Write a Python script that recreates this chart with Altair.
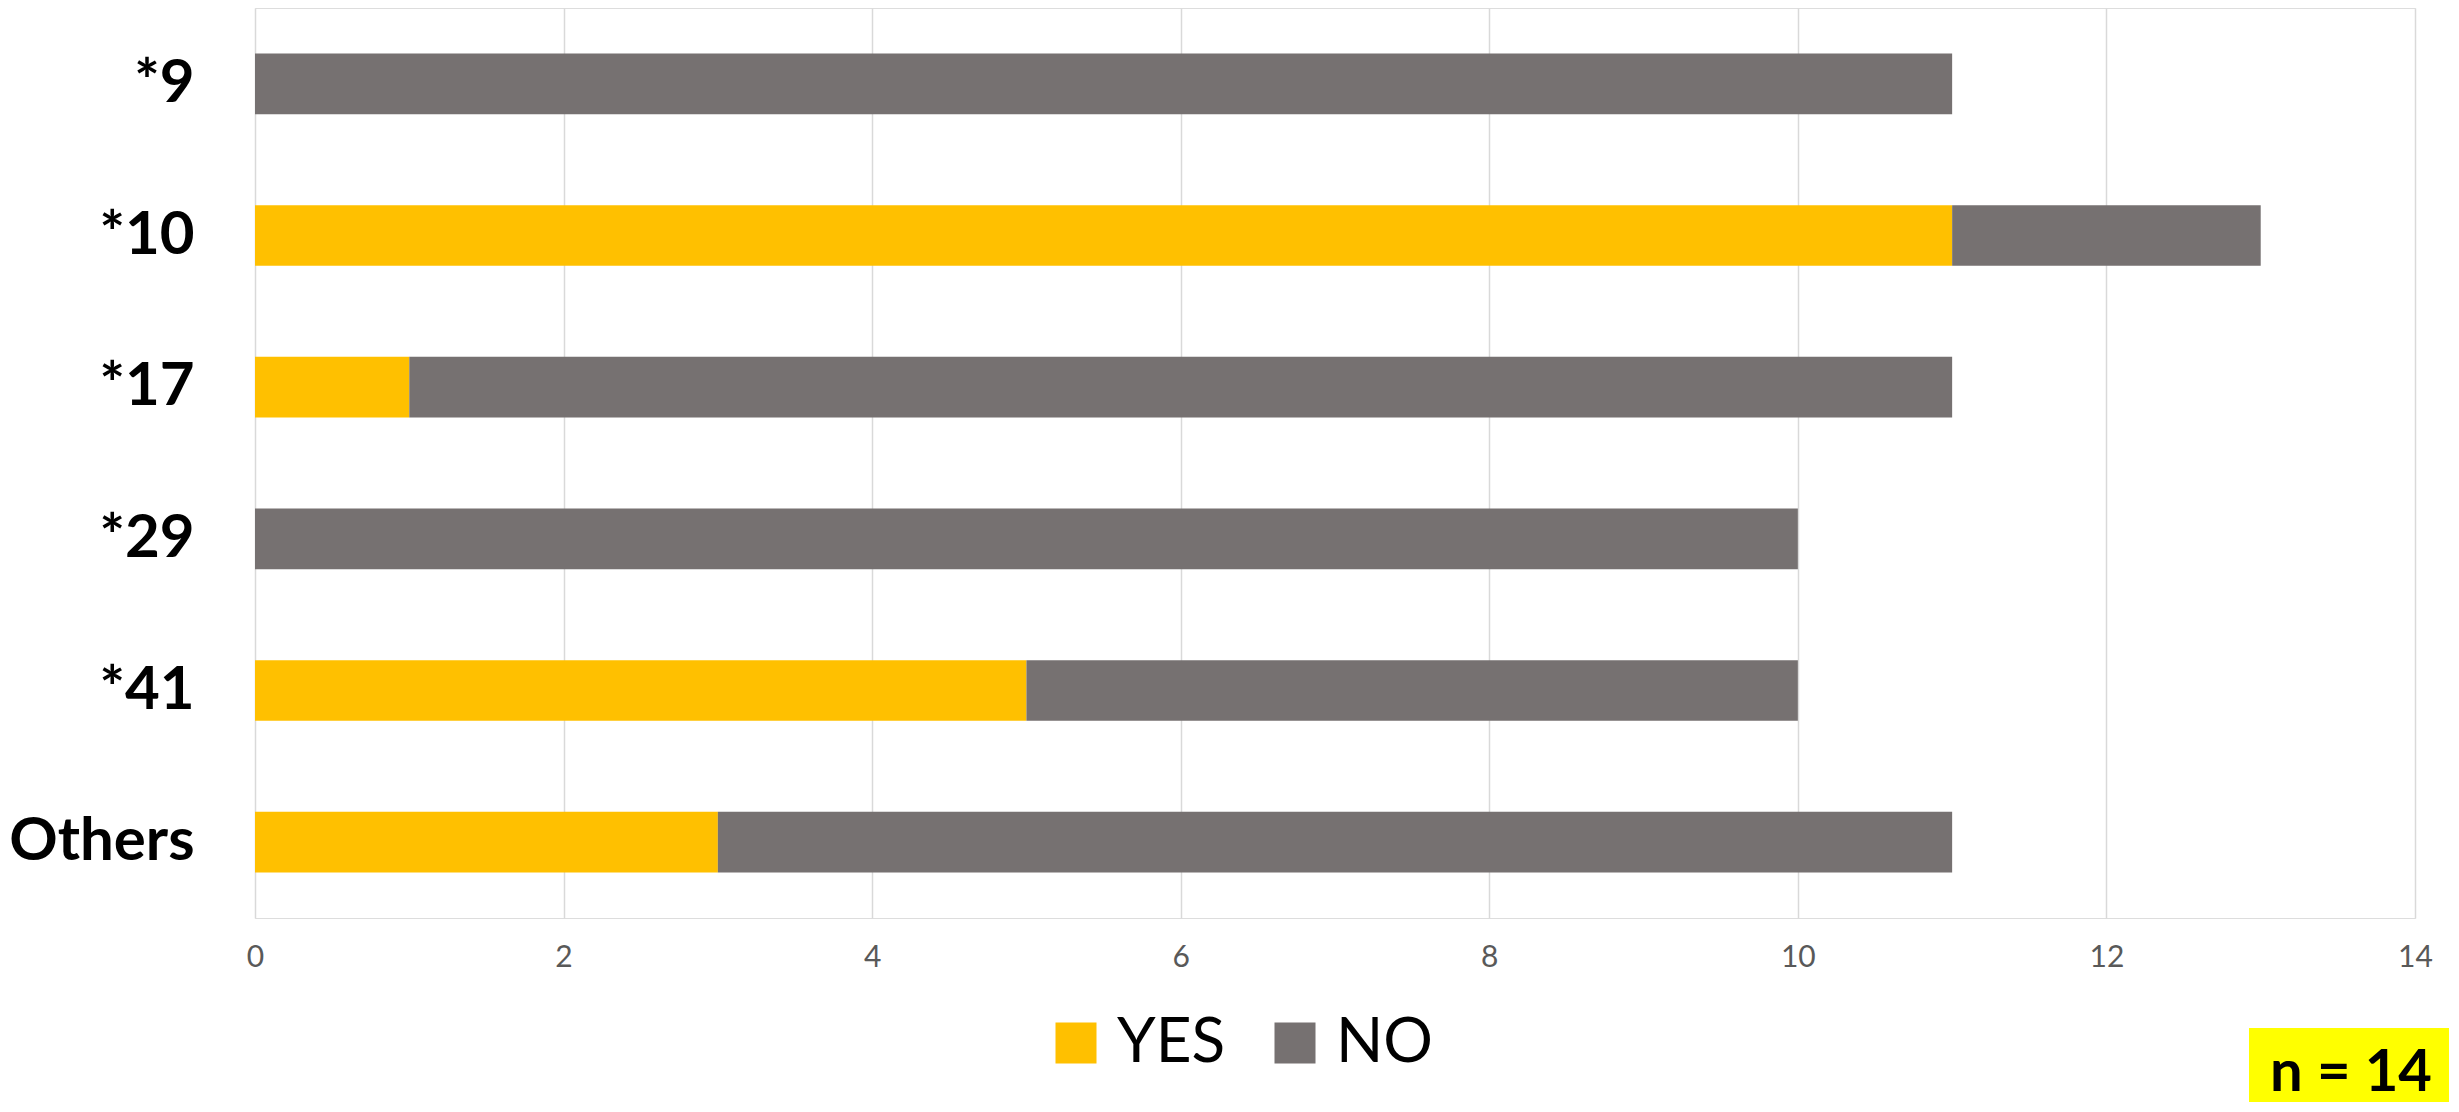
import altair as alt
import pandas as pd

categories = ["*9", "*10", "*17", "*29", "*41", "Others"]
yes_values = [0, 11, 1, 0, 5, 3]
no_values = [11, 2, 10, 10, 5, 8]
series = ["YES", "NO"]
colors = ["#FFC000", "#767171"]
x_ticks = [0, 2, 4, 6, 8, 10, 12, 14]
note = ["n = 14"]

rows = []
for c, yv, nv in zip(categories, yes_values, no_values):
    rows.append({"cat": c, "answer": "YES", "count": yv, "ord": 0})
    rows.append({"cat": c, "answer": "NO", "count": nv, "ord": 1})
df = pd.DataFrame(rows)

FONT = "Lato"

bars = alt.Chart(df).mark_bar().encode(
    y=alt.Y(
        "cat:N",
        sort=categories,
        scale=alt.Scale(paddingInner=0.6, paddingOuter=0.3),
        axis=alt.Axis(
            title=None, ticks=False, tickSize=0, domain=False, grid=False,
            labelFont=FONT, labelFontWeight="bold", labelFontSize=60,
            labelColor="#000000", labelPadding=61, labelLimit=400,
        ),
    ),
    x=alt.X(
        "count:Q",
        stack="zero",
        scale=alt.Scale(domain=[0, 14], nice=False),
        axis=alt.Axis(
            title=None, values=x_ticks, ticks=False, tickSize=0, domain=False,
            grid=True, gridColor="#D9D9D9", gridWidth=1.5,
            labelFont=FONT, labelFontSize=30, labelColor="#595959",
            labelPadding=24, labelFlush=False,
        ),
    ),
    color=alt.Color(
        "answer:N",
        scale=alt.Scale(domain=series, range=colors),
        legend=alt.Legend(
            title=None, orient="none", legendX=790, legendY=1004,
            direction="horizontal", symbolType="square", symbolSize=1681,
            symbolStrokeWidth=0, symbolOpacity=1,
            labelFont=FONT, labelFontSize=62, labelColor="#000000",
            labelOffset=10, columnPadding=38, labelLimit=400,
        ),
    ),
    order=alt.Order("ord:Q"),
)

note_df = pd.DataFrame({"t": note})
box = alt.Chart(note_df).mark_rect(color="#FFFF00", clip=False).encode(
    x=alt.value(1994), x2=alt.value(2194), y=alt.value(1020), y2=alt.value(1094)
)
txt = alt.Chart(note_df).mark_text(
    font=FONT, fontWeight="bold", fontSize=58, color="#000000",
    align="center", baseline="alphabetic", clip=False,
).encode(x=alt.value(2096), y=alt.value(1083), text="t:N")

chart = alt.layer(bars, box, txt).properties(
    width=2160,
    height=910,
    autosize=alt.AutoSizeParams(type="none"),
    padding={"left": 247, "top": 0, "right": 34, "bottom": 184},
).configure_view(stroke=None).configure(background="white")

chart.save("out.html", embed_options={"renderer": "svg", "actions": False})
